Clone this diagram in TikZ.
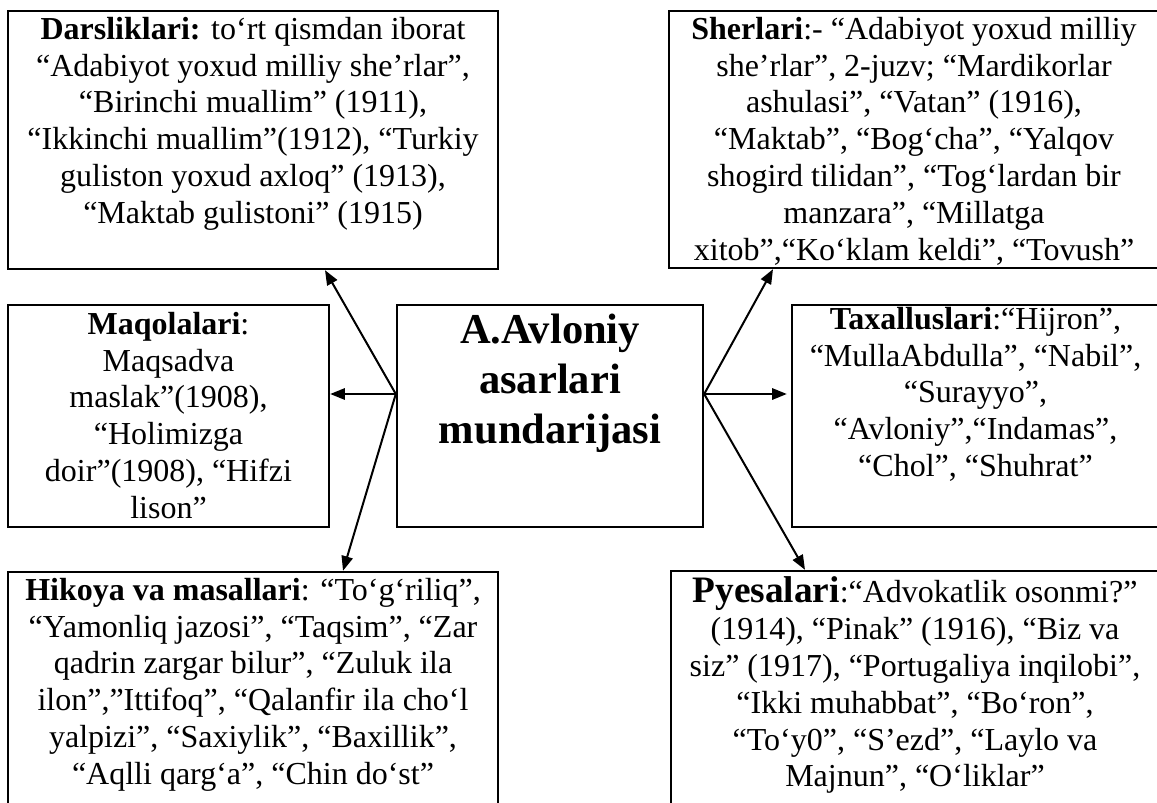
\documentclass[tikz,border=0pt]{standalone}
\usepackage{fontspec}
\setmainfont{Liberation Serif}
\usetikzlibrary{arrows.meta,calc,fit}
\begin{document}
\begin{tikzpicture}[x=0.75pt,y=-0.75pt,
  panel/.style={draw,line width=1.8pt,inner sep=0pt},
  blurb/.style={align=center,inner sep=0pt,anchor=north,font=\fontsize{24}{27.6}\selectfont},
  link/.style={line width=1.5pt,-{Triangle[length=11pt,width=8.5pt]}}]
\useasboundingbox (0,0) rectangle (1157,803);

% frames
\node[panel,fit={(8,11) (498,269)}] (dars) {};
\node[panel,fit={(669,11) (1159,268)}] (sher) {};
\node[panel,fit={(8,305) (329,527)}] (maq) {};
\node[panel,fit={(397,305) (703,527)}] (cen) {};
\node[panel,fit={(792,305) (1159,527)}] (tax) {};
\node[panel,fit={(8,572) (498,820)}] (hik) {};
\node[panel,fit={(671,571) (1159,820)}] (pye) {};

% texts
\node[blurb] (darsT) at ($(dars.north)+(0,7)$)
  {\textbf{Darsliklari:} to‘rt qismdan iborat\\
   “Adabiyot yoxud milliy she’rlar”,\\
   “Birinchi muallim” (1911),\\
   “Ikkinchi muallim”(1912), “Turkiy\\
   guliston yoxud axloq” (1913),\\
   “Maktab gulistoni” (1915)};

\node[blurb] (sherT) at ($(sher.north)+(0,7)$)
  {\textbf{Sherlari}:- “Adabiyot yoxud milliy\\
   she’rlar”, 2-juzv; “Mardikorlar\\
   ashulasi”, “Vatan” (1916),\\
   “Maktab”, “Bog‘cha”, “Yalqov\\
   shogird tilidan”, “Tog‘lardan bir\\
   manzara”, “Millatga\\
   xitob”,“Ko‘klam keldi”, “Tovush”};

\node[blurb] (maqT) at ($(maq.north)+(0,8)$)
  {\textbf{Maqolalari}:\\
   Maqsadva\\
   maslak”(1908),\\
   “Holimizga\\
   doir”(1908), “Hifzi\\
   lison”};

\node[blurb,font=\fontsize{31.9}{37.5}\selectfont\bfseries] (cenT) at ($(cen.north)+(0,10)$)
  {A.Avloniy\\asarlari\\mundarijasi};

\node[blurb] (taxT) at ($(tax.north)+(0,3)$)
  {\textbf{Taxalluslari}:“Hijron”,\\
   “MullaAbdulla”, “Nabil”,\\
   “Surayyo”,\\
   “Avloniy”,“Indamas”,\\
   “Chol”, “Shuhrat”};

\node[blurb] (hikT) at ($(hik.north)+(0,7)$)
  {\textbf{Hikoya va masallari}: “To‘g‘riliq”,\\
   “Yamonliq jazosi”, “Taqsim”, “Zar\\
   qadrin zargar bilur”, “Zuluk ila\\
   ilon”,”Ittifoq”, “Qalanfir ila cho‘l\\
   yalpizi”, “Saxiylik”, “Baxillik”,\\
   “Aqlli qarg‘a”, “Chin do‘st”};

\node[blurb] (pyeT) at ($(pye.north)+(0,7)$)
  {{\fontsize{28}{30}\selectfont\bfseries Pyesalari}:“Advokatlik osonmi?”\\
   (1914), “Pinak” (1916), “Biz va\\
   siz” (1917), “Portugaliya inqilobi”,\\
   “Ikki muhabbat”, “Bo‘ron”,\\
   “To‘y0”, “S’ezd”, “Laylo va\\
   Majnun”, “O‘liklar”};

% hubs on the sides of the central frame
\coordinate (hubW) at ($(cen.west)+(0,-22)$);
\coordinate (hubE) at ($(cen.east)+(0,-22)$);

% connectors
\draw[link] (hubW) -- ($(dars.south)+(72,0)$);
\draw[link] (hubW) -- (hubW -| maq.east);
\draw[link] (hubW) -- ($(hik.north)+(90,0)$);
\draw[link] (hubE) -- ($(sher.south)+(-141,0)$);
\draw[link] (hubE) -- ($(hubE -| tax.west)+(-4,0)$);
\draw[link] (hubE) -- ($(pye.north)+(-110,0)$);
\end{tikzpicture}
\end{document}
